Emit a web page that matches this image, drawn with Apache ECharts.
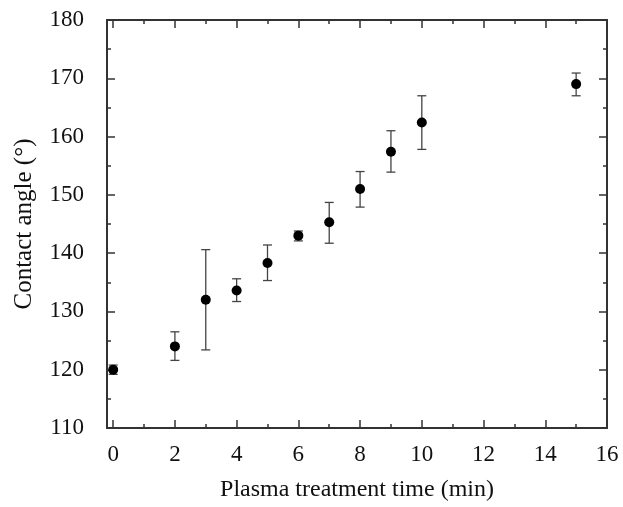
<!DOCTYPE html>
<html>
<head>
<meta charset="utf-8">
<script src="https://cdn.jsdelivr.net/npm/echarts@6/dist/echarts.min.js"></script>
<style>html,body{margin:0;padding:0;background:#fff}#c{width:623px;height:507px}</style>
</head>
<body>
<div id="c"></div>
<script>
const times = [0, 2, 3, 4, 5, 6, 7, 8, 9, 10, 15];
const angle = [120.0, 124.0, 132.0, 133.6, 138.3, 143.0, 145.3, 151.0, 157.4, 162.4, 169.0];
const errLow = [119.2, 121.6, 123.4, 131.7, 135.3, 142.1, 141.7, 147.9, 153.9, 157.8, 167.0];
const errHigh = [120.8, 126.5, 140.6, 135.6, 141.4, 143.8, 148.7, 154.0, 161.0, 167.0, 170.9];
const xMajor = [0, 2, 4, 6, 8, 10, 12, 14, 16];
const xMinor = [1, 3, 5, 7, 9, 11, 13, 15];

const FONT = 'Liberation Serif';
const AX = '#333';
const chart = echarts.init(document.getElementById('c'), null, {renderer: 'canvas'});

function xAx(pos, vals, len, labels, name) {
  return {
    type: 'value', position: pos, min: -0.2, max: 16,
    splitLine: {show: false},
    axisLine: {show: true, onZero: false, lineStyle: {color: AX, width: 2}},
    axisTick: {show: true, inside: true, length: len, customValues: vals, lineStyle: {color: AX, width: 1.5}},
    axisLabel: {show: labels, customValues: vals, margin: 15, fontFamily: FONT, fontSize: 23, color: '#111'},
    name: name || '', nameLocation: 'middle', nameGap: 50,
    nameTextStyle: {fontFamily: FONT, fontSize: 24, color: '#111'}
  };
}
function yAx(pos, labels, name) {
  return {
    type: 'value', position: pos, min: 110, max: 180, interval: 10,
    splitLine: {show: false},
    axisLine: {show: true, onZero: false, lineStyle: {color: AX, width: 2}},
    axisTick: {show: true, inside: true, length: 8, lineStyle: {color: AX, width: 1.5}},
    minorTick: {show: true, splitNumber: 2, length: 4, lineStyle: {color: AX, width: 1.5}},
    axisLabel: {show: labels, margin: 23, fontFamily: FONT, fontSize: 23, color: '#111'},
    name: name || '', nameLocation: 'middle', nameGap: 70, nameRotate: 90,
    nameTextStyle: {fontFamily: FONT, fontSize: 25, color: '#111'}
  };
}

const errData = times.map((t, i) => [t, errLow[i], errHigh[i]]);
const ptData = times.map((t, i) => [t, angle[i]]);

chart.setOption({
  animation: false,
  grid: {left: 107, right: 16, top: 20, bottom: 79, containLabel: false},
  xAxis: [
    xAx('bottom', xMajor, 8, true, 'Plasma treatment time (min)'),
    xAx('bottom', xMinor, 4, false),
    xAx('top', xMajor, 8, false),
    xAx('top', xMinor, 4, false)
  ],
  yAxis: [
    yAx('left', true, 'Contact angle (°)'),
    yAx('right', false)
  ],
  series: [
    {
      type: 'custom', xAxisIndex: 0, yAxisIndex: 0, data: errData,
      renderItem: function (params, api) {
        const x = api.value(0);
        const lo = api.coord([x, api.value(1)]);
        const hi = api.coord([x, api.value(2)]);
        const w = 4.5;
        const st = {stroke: '#444', lineWidth: 1.3};
        return {type: 'group', children: [
          {type: 'line', shape: {x1: lo[0], y1: lo[1], x2: hi[0], y2: hi[1]}, style: st},
          {type: 'line', shape: {x1: lo[0] - w, y1: lo[1], x2: lo[0] + w, y2: lo[1]}, style: st},
          {type: 'line', shape: {x1: hi[0] - w, y1: hi[1], x2: hi[0] + w, y2: hi[1]}, style: st}
        ]};
      },
      z: 2
    },
    {
      type: 'scatter', xAxisIndex: 0, yAxisIndex: 0, data: ptData,
      symbol: 'circle', symbolSize: 10, itemStyle: {color: '#000', opacity: 1}, z: 3
    }
  ]
});
</script>
</body>
</html>
